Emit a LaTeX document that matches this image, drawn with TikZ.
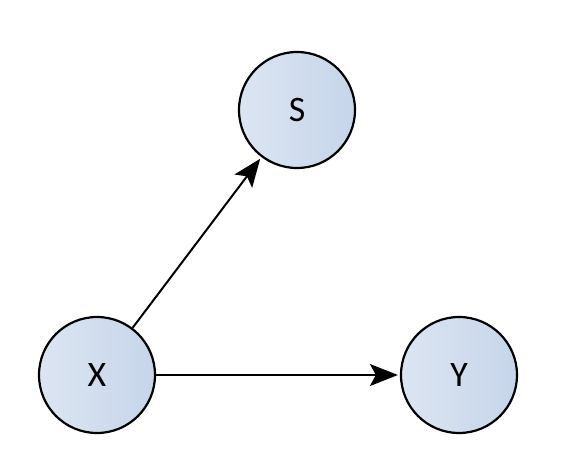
\documentclass[tikz,border=0pt]{standalone}
\usepackage{fontspec}
\setmainfont{Carlito}
\usetikzlibrary{arrows.meta}
\definecolor{nodelight}{HTML}{DCE5F2}
\definecolor{nodedark}{HTML}{C6D5EA}
\tikzset{
  var/.style={draw, circle, line width=2.2bp, minimum size=116bp, inner sep=0pt,
    left color=nodelight, right color=nodedark,
    font=\fontsize{36}{42}\selectfont},
  edge/.style={-{Stealth[length=28bp, width=22bp, inset=6bp]}, line width=2bp, shorten >=2bp}
}
\begin{document}
\begin{tikzpicture}[x=1bp, y=-1bp]
        \useasboundingbox (0,0) rectangle (566,456);
        \draw (297,110) node[var] (S) {S};
        \draw (97,375) node[var] (X) {X};
        \draw (459,375) node[var] (Y) {Y};

        \draw[edge] (X) -- (S);
        \draw[edge] (X) -- (Y);
    \end{tikzpicture}
\end{document}
